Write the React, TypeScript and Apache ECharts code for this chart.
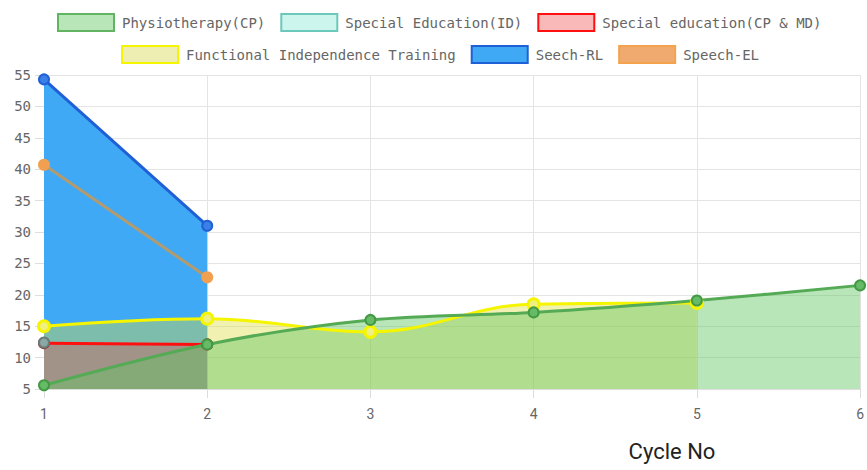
import React, { useEffect, useRef } from "react";
import * as echarts from "echarts";

const categories = ["1", "2", "3", "4", "5", "6"];
const physiotherapy = [5.6, 12.1, 16.0, 17.2, 19.1, 21.5];
const specialEducationID = [12.4];
const specialEducationCPMD = [12.3, 12.1];
const functionalIndependence = [15.0, 16.2, 14.1, 18.5, 18.7];
const seechRL = [54.3, 31.0];
const speechEL = [40.7, 22.8];
const yTicks = { min: 5, max: 55, interval: 5 };

const names = [
  "Physiotherapy(CP)",
  "Special Education(ID)",
  "Special education(CP & MD)",
  "Functional Independence Training",
  "Seech-RL",
  "Speech-EL",
];

const legendStyles: Record<string, any> = {
  "Physiotherapy(CP)": { color: "#b9e6b9", borderColor: "#62b462", borderWidth: 2 },
  "Special Education(ID)": { color: "#ccf5ee", borderColor: "#6cc8ba", borderWidth: 2 },
  "Special education(CP & MD)": { color: "#f9b9b9", borderColor: "#ff1010", borderWidth: 2 },
  "Functional Independence Training": { color: "#eeeeb2", borderColor: "#f5f500", borderWidth: 2 },
  "Seech-RL": { color: "#3fa9f5", borderColor: "#2060d6", borderWidth: 2 },
  "Speech-EL": { color: "#f0aa70", borderColor: "#f5a24e", borderWidth: 2 },
};

export default function App() {
  const ref = useRef<HTMLDivElement>(null);
  useEffect(() => {
    if (!ref.current) return;
    const chart = echarts.init(ref.current, undefined, { renderer: "svg" });
    const legendText = {
      fontFamily: "DejaVu Sans Mono",
      fontSize: 14,
      color: "#666",
      padding: [0, 0, 0, 3],
    };
    const legendCommon = {
      icon: "rect",
      itemWidth: 56,
      itemHeight: 17,
      itemGap: 15,
      textStyle: legendText,
      selectedMode: false,
    };
    const mk = (n: string) => ({ name: n, itemStyle: legendStyles[n] });
    const option: any = {
      animation: false,
      legend: [
        { ...legendCommon, left: 52, top: 8, data: names.slice(0, 3).map(mk) },
        { ...legendCommon, left: 116, top: 40, data: names.slice(3).map(mk) },
      ],
      grid: { left: 44, right: 5, top: 75, bottom: 81 },
      xAxis: {
        type: "category",
        data: categories,
        boundaryGap: false,
        axisLine: { show: true, lineStyle: { color: "#ddd" } },
        axisTick: { show: true, length: 9, lineStyle: { color: "#ddd" } },
        axisLabel: { margin: 18, fontFamily: "Roboto", fontSize: 14, color: "#666" },
        splitLine: { show: true, lineStyle: { color: "#e4e4e4" } },
      },
      yAxis: {
        type: "value",
        min: yTicks.min,
        max: yTicks.max,
        interval: yTicks.interval,
        axisLine: { show: true, lineStyle: { color: "#bbb" } },
        axisTick: { show: true, length: 9, lineStyle: { color: "#ddd" } },
        axisLabel: { margin: 13, fontFamily: "DejaVu Sans Mono", fontSize: 14, color: "#666" },
        splitLine: { show: true, lineStyle: { color: "#e4e4e4" } },
      },
      graphic: [
        {
          type: "text",
          x: 672,
          y: 451,
          style: {
            text: "Cycle No",
            font: "22px Roboto",
            fill: "#222",
            align: "center",
            verticalAlign: "middle",
          },
        },
      ],
      series: [
        {
          name: "Seech-RL",
          type: "line",
          data: seechRL,
          symbol: "circle",
          symbolSize: 10,
          lineStyle: { color: "#2060d6", width: 3 },
          itemStyle: { color: "#3a80e6", borderColor: "#2060d6", borderWidth: 2 },
          areaStyle: { color: "#3fa9f5", opacity: 1, origin: "start" },
        },
        {
          name: "Functional Independence Training",
          type: "line",
          data: functionalIndependence,
          smooth: 0.4,
          symbol: "circle",
          symbolSize: 11,
          lineStyle: { color: "#f5f500", width: 3 },
          itemStyle: { color: "#f0f080", borderColor: "#f5f500", borderWidth: 3 },
          areaStyle: { color: "rgba(220,220,60,0.4)", opacity: 1, origin: "start" },
        },
        {
          name: "Special education(CP & MD)",
          type: "line",
          data: specialEducationCPMD,
          symbol: "circle",
          symbolSize: 10,
          lineStyle: { color: "#ff1010", width: 3 },
          itemStyle: { color: "#c04040", borderColor: "#a02020", borderWidth: 2 },
          areaStyle: { color: "rgba(240,60,60,0.32)", opacity: 1, origin: "start" },
        },
        {
          name: "Special Education(ID)",
          type: "line",
          data: specialEducationID,
          symbol: "circle",
          symbolSize: 10,
          lineStyle: { color: "#6cc8ba", width: 2 },
          itemStyle: { color: "#8aa8a4", borderColor: "#6b7b78", borderWidth: 2 },
          areaStyle: { color: "rgba(75,192,192,0.3)", opacity: 1, origin: "start" },
        },
        {
          name: "Physiotherapy(CP)",
          type: "line",
          data: physiotherapy,
          smooth: 0.3,
          symbol: "circle",
          symbolSize: 10,
          lineStyle: { color: "#55aa55", width: 3 },
          itemStyle: { color: "#66bb66", borderColor: "#449944", borderWidth: 2 },
          areaStyle: { color: "rgba(100,200,100,0.45)", opacity: 1, origin: "start" },
        },
        {
          name: "Speech-EL",
          type: "line",
          data: speechEL,
          symbol: "circle",
          symbolSize: 10,
          lineStyle: { color: "#b49b6e", width: 3 },
          itemStyle: { color: "#f0a050", borderColor: "#f0a050", borderWidth: 2 },
        },
      ],
    };
    chart.setOption(option);
    return () => chart.dispose();
  }, []);
  return (
    <div
      ref={ref}
      style={{ position: "absolute", left: 0, top: 0, width: 867, height: 470 }}
    />
  );
}
